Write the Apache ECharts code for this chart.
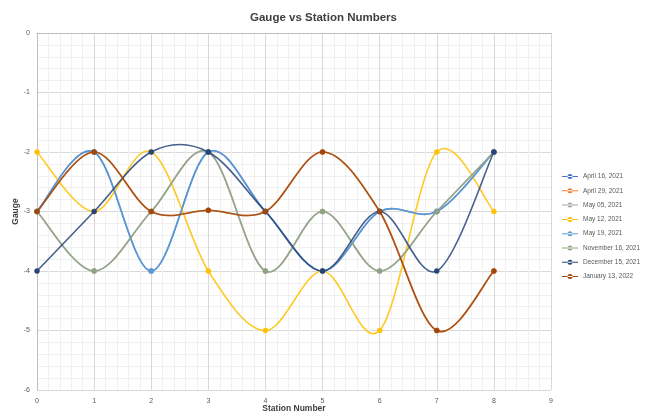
<!DOCTYPE html>
<html><head><meta charset="utf-8">
<script src="https://cdn.jsdelivr.net/npm/echarts@6/dist/echarts.min.js"></script>
<style>html,body{margin:0;padding:0;background:#fff}#c{width:647px;height:415px}</style>
</head><body><div id="c"></div>
<script>
const stations = [0,1,2,3,4,5,6,7,8];
const seriesNames = ["April 16, 2021","April 29, 2021","May 05, 2021","May 12, 2021","May 19, 2021","November 16, 2021","December 15, 2021","January 13, 2022"];
const apr16 = [-3,-2,-4,-2,-3,-4,-3,-3,-2];
const apr29 = [-3,-2,-3,-2.98,-3,-2,-3,-5,-4];
const may05 = [-3,-4,-3,-2,-4,-3,-4,-3,-2];
const may12 = [-2,-3,-2,-4,-5,-4,-5,-2,-3];
const may19 = [-3,-2,-4,-2,-3,-4,-3,-3,-2];
const nov16 = [-3,-4,-3,-2,-4,-3,-4,-3,-2];
const dec15 = [-4,-3,-2,-2,-3,-4,-3,-4,-2];
const jan13 = [-3,-2,-3,-2.98,-3,-2,-3,-5,-4];
const yTicks = [-6,-5,-4,-3,-2,-1,0];
const allData = [apr16,apr29,may05,may12,may19,nov16,dec15,jan13];
const colors = ["#4472C4","#ED7D31","#A5A5A5","#FFC000","#5B9BD5","#8FA382","#264478","#9E480E"];
const fam = "Liberation Sans, Arial, sans-serif";
const chart = echarts.init(document.getElementById('c'), null, {renderer:'canvas'});

function makeRender(i){
  return function(params, api){
    const d = allData[i]; const N = d.length; const j = params.dataIndex;
    const P = k => { const kk = Math.max(0, Math.min(N-1, k)); return api.coord([stations[kk], d[kk]]); };
    const children = [];
    if (j < N-1) {
      const p0 = P(j-1), p1 = P(j), p2 = P(j+1), p3 = P(j+2);
      const c1 = [p1[0] + (p2[0]-p0[0])/6, p1[1] + (p2[1]-p0[1])/6];
      const c2 = [p2[0] - (p3[0]-p1[0])/6, p2[1] - (p3[1]-p1[1])/6];
      children.push({type:'bezierCurve', shape:{x1:p1[0], y1:p1[1], cpx1:c1[0], cpy1:c1[1], cpx2:c2[0], cpy2:c2[1], x2:p2[0], y2:p2[1]},
        style:{stroke:colors[i], fill:null, lineWidth:1.6, opacity:0.85}});
    }
    const p = P(j);
    children.push({type:'circle', shape:{cx:p[0], cy:p[1], r:2.5}, style:{fill:colors[i], stroke:colors[i], lineWidth:0.5}});
    return {type:'group', children};
  };
}

chart.setOption({
  animation:false,
  title:{text:"Gauge vs Station Numbers", left:'center', top:7,
    textStyle:{fontSize:11.5, fontWeight:'bold', color:'#404040', fontFamily:fam}},
  grid:{left:37, right:96, top:33, bottom:25, containLabel:false, outerBoundsMode:'none'},
  legend:{orient:'vertical', left:557, top:168, itemWidth:16, itemHeight:5, itemGap:7.3,
    icon:'path://M0,2 L16,2 L16,3 L0,3 Z M5.5,2.5 a2.5,2.5 0 1,0 5,0 a2.5,2.5 0 1,0 -5,0',
    textStyle:{fontSize:6.5, color:'#595959', fontFamily:fam},
    data:seriesNames},
  xAxis:{type:'value', min:0, max:9, interval:1, name:'Station Number', nameLocation:'middle', nameGap:14, nameMoveOverlap:false,
    nameTextStyle:{fontSize:8.5, fontWeight:'bold', color:'#404040', fontFamily:fam},
    axisLine:{lineStyle:{color:'#bfbfbf'}}, axisTick:{show:false},
    axisLabel:{fontSize:7, color:'#595959', fontFamily:fam, margin:8},
    splitLine:{show:true, lineStyle:{color:'#d9d9d9'}},
    minorTick:{show:false, splitNumber:5},
    minorSplitLine:{show:true, lineStyle:{color:'#f0f0f0'}}},
  yAxis:{type:'value', min:-6, max:0, interval:1, name:'Gauge', nameLocation:'middle', nameGap:17, nameMoveOverlap:false,
    nameTextStyle:{fontSize:8.5, fontWeight:'bold', color:'#404040', fontFamily:fam},
    axisLine:{show:true, lineStyle:{color:'#bfbfbf'}}, axisTick:{show:false},
    axisLabel:{fontSize:7, color:'#595959', fontFamily:fam, margin:7,
      formatter:v=>yTicks.includes(v)?String(v):''},
    splitLine:{show:true, lineStyle:{color:'#d9d9d9'}},
    minorTick:{show:false, splitNumber:5},
    minorSplitLine:{show:true, lineStyle:{color:'#f0f0f0'}}},
  series: seriesNames.map((n,i)=>({
    name:n, type:'custom', clip:false,
    data: stations.map((s,j)=>[s, allData[i][j]]),
    encode:{x:0, y:1},
    itemStyle:{color:colors[i]},
    renderItem: makeRender(i)
  }))
});
</script></body></html>
